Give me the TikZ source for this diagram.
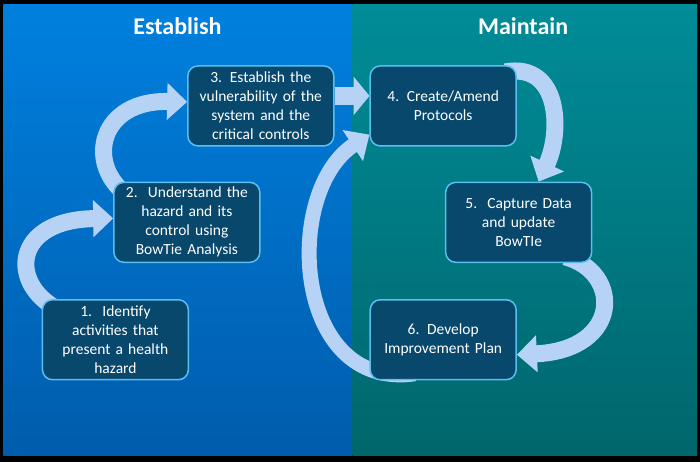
\documentclass[tikz,border=0pt]{standalone}
\usepackage{fontspec}
\setmainfont{Carlito}
\usetikzlibrary{arrows.meta}
\pgfdeclarelayer{bg}
\pgfdeclarelayer{flow}
\pgfsetlayers{bg,flow,main}
\definecolor{leftTop}{RGB}{0,128,222}
\definecolor{leftBot}{RGB}{0,92,172}
\definecolor{rightTop}{RGB}{0,140,152}
\definecolor{rightBot}{RGB}{0,102,108}
\definecolor{boxFill}{RGB}{8,72,108}
\definecolor{boxEdge}{RGB}{90,190,240}
\definecolor{ribbonBlue}{RGB}{182,210,244}
\begin{document}
\begin{tikzpicture}[x=1pt, y=1pt,
    stepbox/.style={draw=boxEdge, line width=1.5pt, fill=boxFill, rounded corners=10pt,
      text=white, text width=142pt, minimum height=80pt, align=center, inner sep=2pt,
      font=\fontsize{15.5}{19}\selectfont},
    title/.style={text=white, font=\fontsize{24}{28}\selectfont\bfseries},
    ribbon/.style={draw=ribbonBlue, line width=17pt, -{Triangle[length=20pt,width=36pt]}}
  ]
  % panels
  \begin{pgfonlayer}{bg}
    \fill[black] (0,0) rectangle (700,462);
    \fill[top color=leftTop, bottom color=leftBot] (3,6) rectangle (352,457);
    \fill[top color=rightTop, bottom color=rightBot] (352,6) rectangle (697,457);
  \end{pgfonlayer}
  \node[title] (est) at (177,436) {Establish};
  \node[title] (mai) at (523,436) {Maintain};
  % steps
  \node[stepbox] (b1) at (115,122) {1.\ \ Identify\\activities that\\present a health\\hazard};
  \node[stepbox] (b2) at (186.5,239.5) {2.\ \ Understand the\\hazard and its\\control using\\BowTie Analysis};
  \node[stepbox] (b3) at (260.5,356) {3. Establish the\\vulnerability of the\\system and the\\critical controls};
  \node[stepbox] (b4) at (443,356) {4. Create/Amend\\Protocols};
  \node[stepbox] (b5) at (518.5,239.5) {5.\ \ Capture Data\\and update\\BowTIe};
  \node[stepbox] (b6) at (443,122) {6. Develop\\Improvement Plan};
  % arrows
  \begin{pgfonlayer}{flow}
    \draw[ribbon] (58,152) .. controls (8,178) and (12,242) .. ([yshift=4pt]b2.west);
    \draw[ribbon] (125,268) .. controls (85,300) and (100,362) .. ([yshift=4pt]b3.west);
    \draw[ribbon, line width=18pt, -{Triangle[length=16pt,width=38pt]}]
      ([yshift=10pt]b3.east) -- ([yshift=10pt]b4.west);
    \draw[ribbon] (505,390) .. controls (560,400) and (562,330) .. ([xshift=20pt]b5.north);
    \draw[ribbon] (565,205) .. controls (622,190) and (622,112) .. ([yshift=-15pt]b6.east);
    \draw[ribbon, line width=15pt] (415,88) .. controls (292,70) and (282,270) .. ([yshift=12pt]b4.south west);
  \end{pgfonlayer}
\end{tikzpicture}
\end{document}
